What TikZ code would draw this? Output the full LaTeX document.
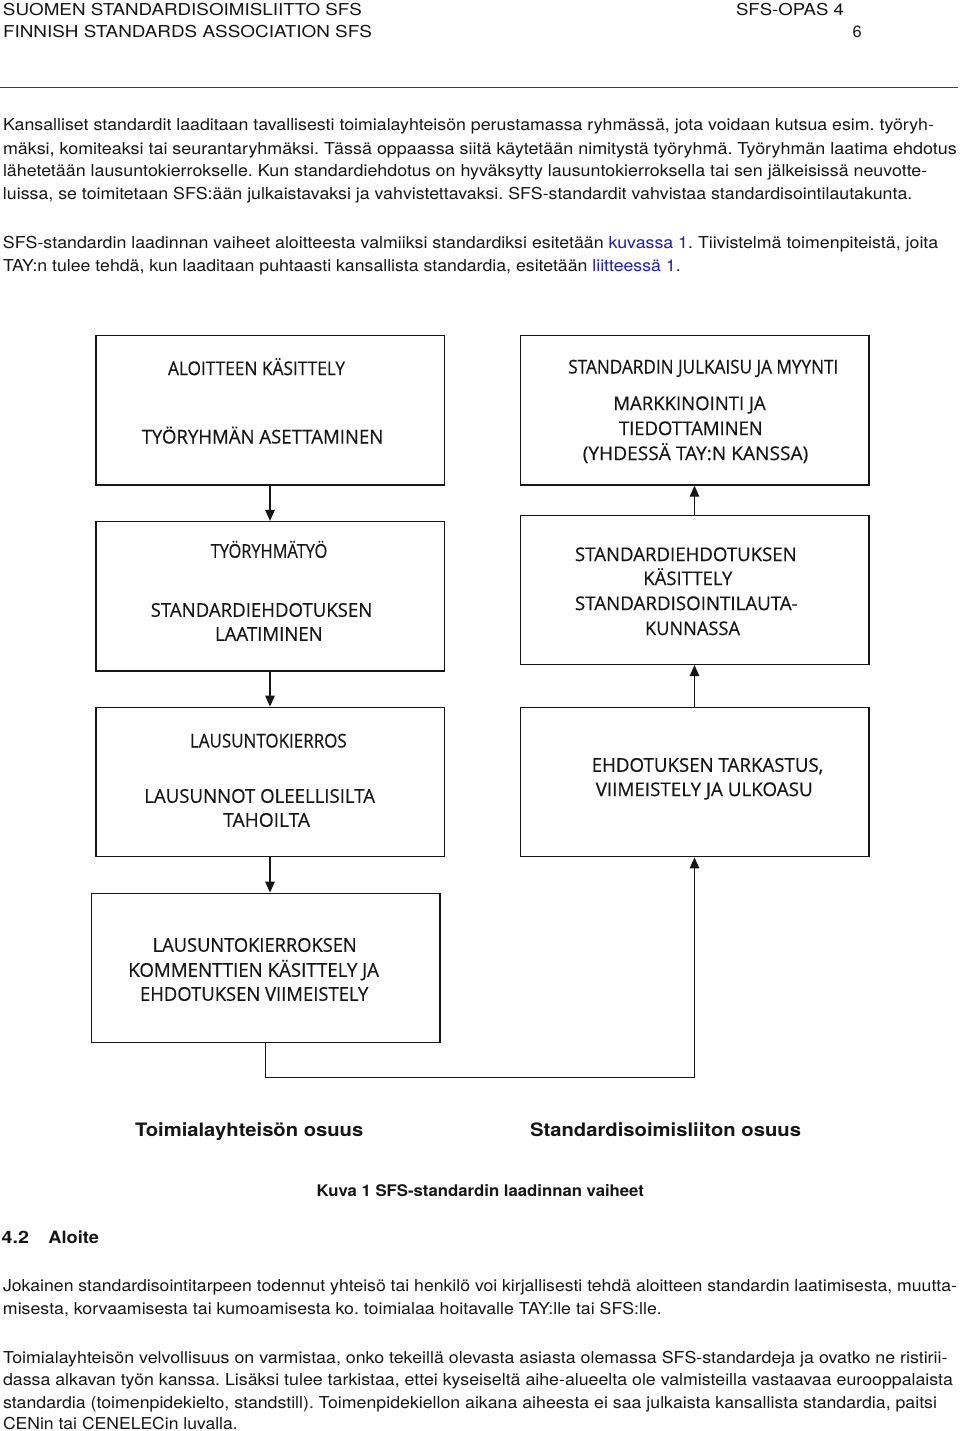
\documentclass[tikz,border=0pt]{standalone}
\usepackage{fontspec}
\usepackage{graphicx}
\usetikzlibrary{arrows.meta}
\setmainfont{TeX Gyre Heros}
\newfontfamily\boxfont{Open Sans}[FakeBold=0.35]
\definecolor{linkblue}{RGB}{28,28,196}
\definecolor{ink}{RGB}{22,22,22}
\frenchspacing
\newsavebox\fitbox
\newcommand\fitto[2]{\sbox\fitbox{#2}\pgfmathsetmacro\fitr{#1/\the\wd\fitbox}\scalebox{\fitr}[1]{\usebox\fitbox}}
\tikzset{
  body/.style={anchor=base west, inner sep=0pt, outer sep=0pt, font=\frenchspacing\fontsize{16.4}{19}\selectfont, text=ink},
  bodybold/.style={anchor=base west, inner sep=0pt, outer sep=0pt, font=\bfseries\fontsize{#1}{20}\selectfont, text=ink},
  boxtxt/.style={anchor=base west, inner sep=0pt, outer sep=0pt, font=\boxfont\fontsize{19}{23}\selectfont, text=ink},
  stagebox/.style={draw=ink, line width=1.5pt, minimum width=348.5pt, minimum height=149.3pt, inner sep=0pt},
  arr/.style={draw=ink, line width=1.2pt, -{Triangle[width=9.5pt,length=11pt]}}
}
\begin{document}
\begin{tikzpicture}[x=1pt,y=-1pt]
\fill[white] (0,0) rectangle (960,1431);
\useasboundingbox (0,0) rectangle (960,1431);

% header
\node[body] (h1) at (3,15.4) {\fitto{359}{SUOMEN STANDARDISOIMISLIITTO SFS}};
\node[body] (h2) at (3,37.4) {\fitto{369}{FINNISH STANDARDS ASSOCIATION SFS}};
\node[body] (h3) at (736,15.4) {\fitto{108}{SFS-OPAS 4}};
\node[body] (h4) at (852.5,37.9) {6};
\draw[line width=1.3pt, draw=black!75] (0,87.5) -- (958,87.5);

% paragraph 1
\node[body] (p1) at (3,130.9) {\fitto{931}{Kansalliset standardit laaditaan tavallisesti toimialayhteisön perustamassa ryhmässä, jota voidaan kutsua esim. työryh-}};
\node[body] (p2) at (3,154.2) {\fitto{953.7}{mäksi, komiteaksi tai seurantaryhmäksi. Tässä oppaassa siitä käytetään nimitystä työryhmä. Työryhmän laatima ehdotus}};
\node[body] (p3) at (3,176.9) {\fitto{924.3}{lähetetään lausuntokierrokselle. Kun standardiehdotus on hyväksytty lausuntokierroksella tai sen jälkeisissä neuvotte-}};
\node[body] (p4) at (3,199.9) {\fitto{909.3}{luissa, se toimitetaan SFS:ään julkaistavaksi ja vahvistettavaksi. SFS-standardit vahvistaa standardisointilautakunta.}};

% paragraph 2
\node[body] (q1) at (3,248.6) {\fitto{935.3}{SFS-standardin laadinnan vaiheet aloitteesta valmiiksi standardiksi esitetään \textcolor{linkblue}{kuvassa 1}. Tiivistelmä toimenpiteistä, joita}};
\node[body] (q2) at (3,271.2) {\fitto{677.7}{TAY:n tulee tehdä, kun laaditaan puhtaasti kansallista standardia, esitetään \textcolor{linkblue}{liitteessä 1}.}};

% boxes
\node[stagebox] (b1l) at (270,410.3) {};
\node[stagebox] (b2l) at (270,596.3) {};
\node[stagebox] (b3l) at (270,782) {};
\node[stagebox] (b4l) at (265.5,968) {};
\node[stagebox] (b1r) at (694.5,410.3) {};
\node[stagebox, minimum height=148.6pt] (b2r) at (694.5,590) {};
\node[stagebox] (b3r) at (694.5,782) {};

% box texts
\node[boxtxt] (t1a) at (168,375.1) {\fitto{177}{ALOITTEEN KÄSITTELY}};
\node[boxtxt] (t1b) at (141.7,443.5) {\fitto{241.6}{TYÖRYHMÄN ASETTAMINEN}};
\node[boxtxt] (t2a) at (210.7,557.8) {\fitto{116.6}{TYÖRYHMÄTYÖ}};
\node[boxtxt] (t2b) at (150.7,616.8) {\fitto{221.6}{STANDARDIEHDOTUKSEN}};
\node[boxtxt] (t2c) at (215,640.8) {\fitto{107.7}{LAATIMINEN}};
\node[boxtxt] (t3a) at (190,747.5) {\fitto{156.7}{LAUSUNTOKIERROS}};
\node[boxtxt] (t3b) at (144.3,802.8) {\fitto{230.7}{LAUSUNNOT OLEELLISILTA}};
\node[boxtxt] (t3c) at (223.3,826.8) {\fitto{86.7}{TAHOILTA}};
\node[boxtxt] (t4a) at (152.7,951.8) {\fitto{204}{LAUSUNTOKIERROKSEN}};
\node[boxtxt] (t4b) at (128.3,976.8) {\fitto{250.7}{KOMMENTTIEN KÄSITTELY JA}};
\node[boxtxt] (t4c) at (140,1000.8) {\fitto{228.3}{EHDOTUKSEN VIIMEISTELY}};
\node[boxtxt] (r1a) at (568.3,373.5) {\fitto{270}{STANDARDIN JULKAISU JA MYYNTI}};
\node[boxtxt] (r1b) at (613.3,410.1) {\fitto{152.4}{MARKKINOINTI JA}};
\node[boxtxt] (r1c) at (619,435.1) {\fitto{143.7}{TIEDOTTAMINEN}};
\node[boxtxt] (r1d) at (582.7,460.1) {\fitto{225.6}{(YHDESSÄ TAY:N KANSSA)}};
\node[boxtxt] (r2a) at (575,561.1) {\fitto{221.7}{STANDARDIEHDOTUKSEN}};
\node[boxtxt] (r2b) at (643.3,585.1) {\fitto{89}{KÄSITTELY}};
\node[boxtxt] (r2c) at (575,610.1) {\fitto{222.7}{STANDARDISOINTILAUTA-}};
\node[boxtxt] (r2d) at (645,635.1) {\fitto{95}{KUNNASSA}};
\node[boxtxt] (r3a) at (591.7,771.8) {\fitto{231.6}{EHDOTUKSEN TARKASTUS,}};
\node[boxtxt] (r3b) at (595.7,796.1) {\fitto{217}{VIIMEISTELY JA ULKOASU}};

% connectors
\draw[arr] (b1l) -- (b2l);
\draw[arr] (b2l) -- (b3l);
\draw[arr] (b3l.south) -- (b3l.south |- b4l.north);
\draw[arr] (b4l.south) -- ++(0,34) coordinate (turn) -| (b3r.south);
\draw[arr] (b3r) -- (b2r);
\draw[arr] (b2r) -- (b1r);

% column labels and caption
\node[bodybold=18.5] (lab1) at (135,1136.6) {\fitto{228.3}{Toimialayhteisön osuus}};
\node[bodybold=18.5] (lab2) at (530,1136.6) {\fitto{271}{Standardisoimisliiton osuus}};
\node[bodybold=16] (cap) at (316.7,1196) {\fitto{327.3}{Kuva 1 SFS-standardin laadinnan vaiheet}};

% heading
\node[bodybold=17] (sec) at (1.7,1243.8) {\fitto{27.3}{4.2}};
\node[bodybold=17] (sect) at (48.3,1243.8) {\fitto{50.7}{Aloite}};

% paragraphs below
\node[body] (s1) at (3,1291.9) {\fitto{954}{Jokainen standardisointitarpeen todennut yhteisö tai henkilö voi kirjallisesti tehdä aloitteen standardin laatimisesta, muutta-}};
\node[body] (s2) at (3,1314.4) {\fitto{658.8}{misesta, korvaamisesta tai kumoamisesta ko. toimialaa hoitavalle TAY:lle tai SFS:lle.}};
\node[body] (u1) at (3,1363.4) {\fitto{944.5}{Toimialayhteisön velvollisuus on varmistaa, onko tekeillä olevasta asiasta olemassa SFS-standardeja ja ovatko ne ristirii-}};
\node[body] (u2) at (3,1385.9) {\fitto{950}{dassa alkavan työn kanssa. Lisäksi tulee tarkistaa, ettei kyseiseltä aihe-alueelta ole valmisteilla vastaavaa eurooppalaista}};
\node[body] (u3) at (3,1408.4) {\fitto{934}{standardia (toimenpidekielto, standstill). Toimenpidekiellon aikana aiheesta ei saa julkaista kansallista standardia, paitsi}};
\node[body] (u4) at (3,1429.6) {\fitto{234.7}{CENin tai CENELECin luvalla.}};
\end{tikzpicture}
\end{document}
